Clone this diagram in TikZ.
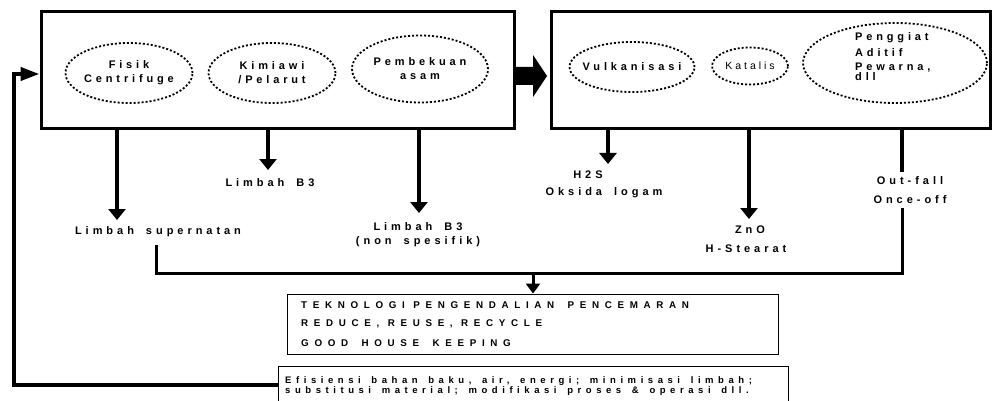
\documentclass[tikz,border=0pt]{standalone}
\usepackage{fontspec}
\setmainfont{Liberation Sans}
\newfontfamily\fEl[LetterSpace=35]{Liberation Sans}
\newfontfamily\fKat[LetterSpace=28]{Liberation Sans}
\newfontfamily\fLab[LetterSpace=36]{Liberation Sans}
\newfontfamily\fTek[LetterSpace=58]{Liberation Sans}
\newfontfamily\fEf[LetterSpace=48]{Liberation Sans}
\newcommand\wsp{\hspace{5pt}}
\newcommand\wss{\hspace{3.5pt}}
\usetikzlibrary{shapes.geometric,arrows.meta}
\begin{document}
\begin{tikzpicture}[x=1pt,y=-1pt,
  bigbox/.style={draw,line width=3pt,rectangle,inner sep=0pt},
  oval/.style={draw,ellipse,line width=1.8pt,dash pattern=on 2pt off 2pt,inner sep=0pt},
  eltxt/.style={font=\fEl\bfseries\fontsize{11}{14}\selectfont,align=center,inner sep=0pt},
  lab/.style={font=\fLab\bfseries\fontsize{11}{12}\selectfont,inner sep=0pt},
  tektxt/.style={font=\fTek\bfseries\fontsize{9.8}{11}\selectfont,inner sep=0pt,anchor=base west},
  eftxt/.style={font=\fEf\bfseries\fontsize{9.5}{11}\selectfont,inner sep=0pt,anchor=base west},
  thinbox/.style={draw,line width=0.9pt,rectangle,inner sep=0pt},
  flow/.style={line width=4pt,-{Triangle[width=17pt,length=11pt]}},
  plain/.style={line width=4pt},
  coll/.style={line width=3pt}
  ]
\useasboundingbox (0,0) rectangle (993,401);
% main boxes
\node[bigbox,minimum width=473pt,minimum height=117pt] (L) at (277.5,70.5) {};
\node[bigbox,minimum width=439pt,minimum height=117pt] (R) at (770.5,70.5) {};
% ellipses left
\node[oval,minimum width=127pt,minimum height=60pt] (e1) at (129,73) {};
\node[eltxt] (t1) at (e1.center) {Fisik\\Centrifuge};
\node[oval,minimum width=127pt,minimum height=60pt] (e2) at (272,73) {};
\node[eltxt] (t2) at (e2.center) {Kimiawi\\/Pelarut};
\node[oval,minimum width=136pt,minimum height=67pt] (e3) at (420,69) {};
\node[eltxt] (t3) at (e3.center) {Pembekuan\\asam};
% ellipses right
\node[oval,minimum width=125pt,minimum height=50pt] (e4) at (632,67) {};
\node[eltxt] (t4) at (e4.center) {Vulkanisasi};
\node[oval,minimum width=76pt,minimum height=37pt] (e5) at (750,66) {};
\node[font=\fKat\fontsize{10.5}{12}\selectfont,inner sep=0pt] (t5) at (e5.center) {Katalis};
\node[oval,minimum width=184pt,minimum height=80pt] (e6) at (895,63) {};
\node[eltxt,anchor=base west] (t6a) at (855,41) {Penggiat};
\node[eltxt,anchor=base west] (t6b) at (855,57) {Aditif};
\node[eltxt,anchor=base west] (t6c) at (855,71) {Pewarna,};
\node[eltxt,anchor=base west] (t6d) at (855,81) {dll};
% big arrow between boxes
\fill (L.east |- 0,67) -- (533,67) -- (533,55) -- (547,76) -- (533,97) -- (533,85) -- (L.east |- 0,85) -- cycle;
% labels
\node[lab] (sup) at (158,232) {Limbah\wsp{} supernatan};
\node[lab] (b3a) at (270,183) {Limbah\wsp{} B3};
\node[lab] (b3b) at (418,227) {Limbah\wsp{} B3};
\node[lab] (b3c) at (418,242) {(non\wsp{} spesifik)};
\node[lab] (h2s) at (588,175) {H2S};
\node[lab] (oks) at (604,193) {Oksida\wsp{} logam};
\node[lab] (zno) at (750,230) {ZnO};
\node[lab] (hst) at (746,249) {H-Stearat};
\node[lab] (out) at (910,181) {Out-fall};
\node[lab] (once) at (910,200) {Once-off};
% arrow tips
\coordinate (a1) at (117,220);
\coordinate (a2) at (268,170);
\coordinate (a3) at (419,213);
\coordinate (a4) at (608,164);
\coordinate (a5) at (749,219);
\draw[flow] (L.south -| a1) -- (a1);
\draw[flow] (L.south -| a2) -- (a2);
\draw[flow] (L.south -| a3) -- (a3);
\draw[flow] (R.south -| a4) -- (a4);
\draw[flow] (R.south -| a5) -- (a5);
\coordinate (o1) at (902,172);
\coordinate (o2) at (902,208);
\draw[plain] (R.south -| o1) -- (o1);
% collector
\coordinate (s0) at (156,245);
\coordinate (cj) at (533,273);
\coordinate (cr) at (902,273);
\draw[coll,line join=miter] (s0) |- (cr) -- (o2);
% lower boxes
\node[thinbox,minimum width=491pt,minimum height=60pt] (tek) at (532.5,324) {};
\node[tektxt] (tk1) at (301,308.5) {TEKNOLOGI PENGENDALIAN\wsp{} PENCEMARAN};
\node[tektxt] (tk2) at (301,326) {REDUCE, REUSE, RECYCLE};
\node[tektxt] (tk3) at (301,346.5) {GOOD\wsp{} HOUSE\wsp{} KEEPING};
\draw[line width=3pt,-{Triangle[width=14pt,length=10pt]}] (cj) -- (tek.north -| cj);
\node[thinbox,minimum width=510pt,minimum height=50pt] (ef) at (533,391) {};
\node[eftxt] (ef1) at (285,383) {Efisiensi\wss{} bahan\wss{} baku,\wss{} air,\wss{} energi;\wss{} minimisasi\wss{} limbah;};
\node[eftxt] (ef2) at (285,393) {substitusi\wss{} material;\wss{} modifikasi\wss{} proses\wss{} \&\wss{} operasi\wss{} dll.};
% feedback
\coordinate (fb1) at (14,385);
\draw[line width=4pt,line join=miter,-{Triangle[width=13pt,length=19pt]}] (ef.west |- fb1) -- (fb1) |- (L.west |- 0,74);
\end{tikzpicture}
\end{document}
